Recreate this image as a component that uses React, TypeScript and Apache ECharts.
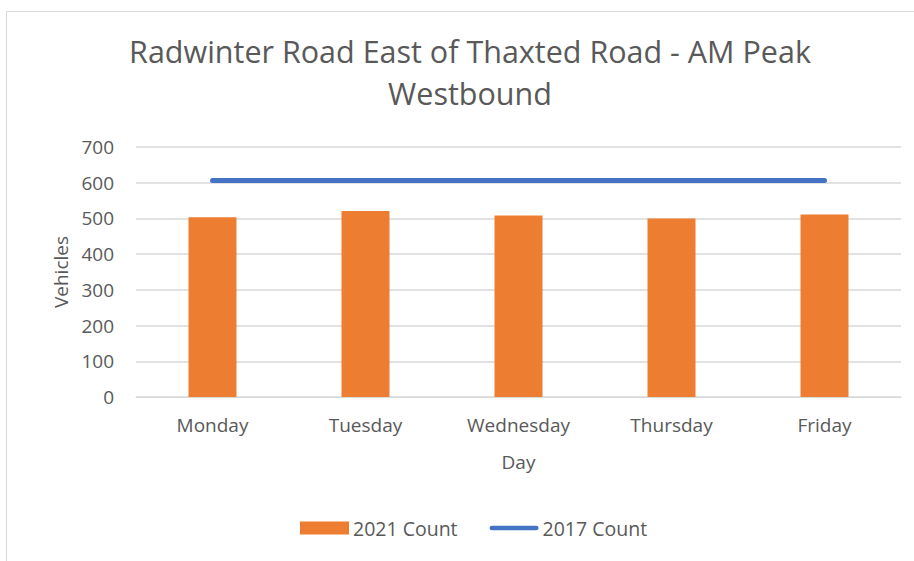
import React, { useEffect, useRef } from "react";
import * as echarts from "echarts";

const categories = ["Monday", "Tuesday", "Wednesday", "Thursday", "Friday"];
const count2021 = [503, 521, 508, 500, 511];
const count2017 = [606, 606, 606, 606, 606];
const titleText = "Radwinter Road East of Thaxted Road - AM Peak\nWestbound";

export default function App() {
  const ref = useRef<HTMLDivElement>(null);
  useEffect(() => {
    document.body.style.margin = "0";
    const chart = echarts.init(ref.current!, undefined, { renderer: "svg" });
    const font = "'Open Sans', sans-serif";
    chart.setOption({
      animation: false,
      backgroundColor: "#ffffff",
      textStyle: { fontFamily: font },
      graphic: [
        {
          type: "rect",
          shape: { x: 6.5, y: 11.5, width: 920, height: 560 },
          style: { fill: "none", stroke: "#d9d9d9", lineWidth: 1 },
          silent: true,
        },
      ],
      title: {
        text: titleText,
        left: 465,
        textAlign: "center",
        top: 25,
        textStyle: {
          fontFamily: font,
          fontSize: 30.5,
          fontWeight: "normal",
          color: "#595959",
          lineHeight: 42,
        },
      },
      legend: {
        bottom: 18,
        left: 295,
        itemGap: 32,
        itemWidth: 49,
        itemHeight: 13,
        textStyle: { fontFamily: font, fontSize: 19.5, color: "#595959", padding: [0, 0, 0, -1] },
        data: [
          { name: "2021 Count", icon: "rect" },
          { name: "2017 Count", icon: "path://M2.5,0 L49.5,0 A2.5,2.5 0 0 1 49.5,5 L2.5,5 A2.5,2.5 0 0 1 2.5,0 Z" },
        ],
      },
      grid: { left: 136, right: 13, top: 147, bottom: 164, containLabel: false },
      xAxis: {
        type: "category",
        data: categories,
        name: "Day",
        nameLocation: "middle",
        nameGap: 55,
        nameTextStyle: { fontFamily: font, fontSize: 19, color: "#595959" },
        axisLine: { show: true, lineStyle: { color: "#d9d9d9", width: 1 } },
        axisTick: { show: false },
        axisLabel: { fontFamily: font, fontSize: 19, color: "#595959", margin: 18 },
      },
      yAxis: {
        type: "value",
        min: 0,
        max: 700,
        interval: 100,
        name: "Vehicles",
        nameLocation: "middle",
        nameGap: 64,
        nameRotate: 90,
        nameTextStyle: { fontFamily: font, fontSize: 19, color: "#595959" },
        axisLine: { show: false },
        axisTick: { show: false },
        axisLabel: { fontFamily: font, fontSize: 19, color: "#595959", margin: 22 },
        splitLine: { lineStyle: { color: "#d9d9d9", width: 1.5 } },
      },
      series: [
        {
          name: "2021 Count",
          type: "bar",
          data: count2021,
          barWidth: 48,
          itemStyle: { color: "#ed7d31" },
        },
        {
          name: "2017 Count",
          type: "line",
          data: count2017,
          symbol: "none",
          lineStyle: { color: "#4472c4", width: 5, cap: "round" },
          itemStyle: { color: "#4472c4" },
        },
      ],
    });
    return () => chart.dispose();
  }, []);
  return <div ref={ref} style={{ width: 914, height: 561 }} />;
}
